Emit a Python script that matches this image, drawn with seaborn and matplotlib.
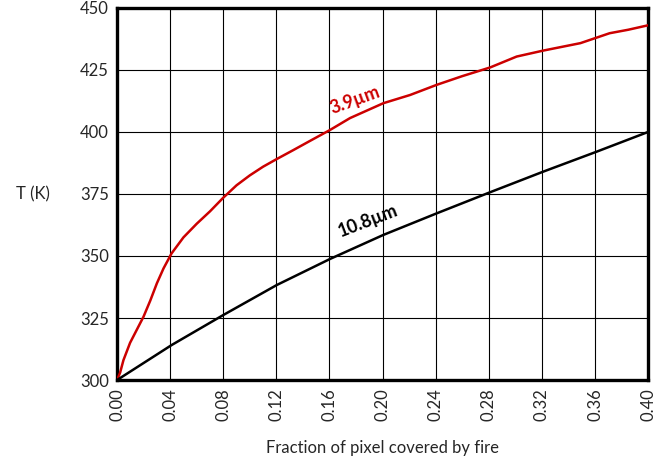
import numpy as np
import pandas as pd
import seaborn as sns
import matplotlib.pyplot as plt

# Values
frac_39 = [0.0, 0.0023, 0.0048, 0.0098, 0.0199, 0.025, 0.030, 0.035, 0.041,
           0.050, 0.060, 0.070, 0.080, 0.090, 0.100, 0.110, 0.120, 0.1328,
           0.145, 0.1604, 0.1755, 0.2006, 0.2207, 0.2408, 0.260, 0.281,
           0.301, 0.321, 0.349, 0.371, 0.385, 0.40]
temp_39 = [300, 303, 308, 315, 325.5, 332, 339, 345, 351,
           357.5, 363, 368, 373.5, 378.5, 382.5, 386, 389, 392.7,
           396.3, 400.8, 405.6, 411.6, 414.9, 419, 422.5, 426,
           430.4, 432.8, 435.8, 439.8, 441.2, 443]

frac_108 = [0.0, 0.0411, 0.080, 0.1203, 0.1604, 0.2006, 0.2408, 0.281,
            0.321, 0.361, 0.40]
temp_108 = [300, 314.1, 326.2, 338.3, 348.8, 358.5, 367.2, 375.7, 384, 392, 400]

x_ticks = [0.00, 0.04, 0.08, 0.12, 0.16, 0.20, 0.24, 0.28, 0.32, 0.36, 0.40]
y_ticks = [300, 325, 350, 375, 400, 425, 450]

df = pd.concat([
    pd.DataFrame({'frac': frac_39, 'T': temp_39, 'band': '3.9µm'}),
    pd.DataFrame({'frac': frac_108, 'T': temp_108, 'band': '10.8µm'}),
])

sns.set_style('white')
plt.rcParams['font.family'] = ['Lato', 'DejaVu Sans']

fig = plt.figure(figsize=(6.54, 4.66), dpi=100)
ax = fig.add_axes([0.179, 0.1845, 0.812, 0.7985])

sns.lineplot(data=df, x='frac', y='T', hue='band', sort=False,
             palette={'3.9µm': '#cc0000', '10.8µm': 'black'},
             linewidth=1.8, legend=False, ax=ax, zorder=3)

ax.set_xlim(0, 0.40)
ax.set_ylim(300, 450)
ax.set_xticks(x_ticks)
ax.set_xticklabels([f'{v:.2f}' for v in x_ticks], rotation=90)
ax.set_yticks(y_ticks)
ax.tick_params(length=0, labelsize=12, pad=6)
ax.grid(True, color='black', linewidth=0.8)

for s in ax.spines.values():
    s.set_visible(True)
    s.set_color('black')
    s.set_linewidth(2.4)

ax.set_xlabel('Fraction of pixel covered by fire', fontsize=12)
ax.xaxis.set_label_coords(0.5, -0.16)
ax.set_ylabel('T (K)', fontsize=12, rotation=0, va='center', ha='center')
ax.yaxis.set_label_coords(-0.158, 0.50)

ax.text(0.1793, 413, '3.9µm', color='#cc0000', fontsize=13,
        fontweight='bold', rotation=20, ha='center', va='center')
ax.text(0.189, 364, '10.8µm', color='black', fontsize=13,
        fontweight='bold', rotation=21, ha='center', va='center')

fig.savefig('out.png', dpi=100)
